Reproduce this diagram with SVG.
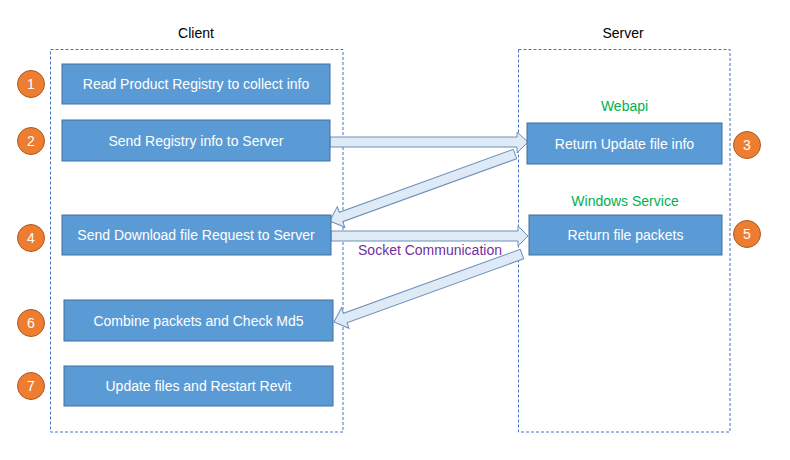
<svg xmlns="http://www.w3.org/2000/svg" width="790" height="460" viewBox="0 0 790 460">
<style>
text{font-family:"Liberation Sans",Arial,sans-serif;font-size:14px}
.lane{fill:none;stroke:#4472C4;stroke-width:1;stroke-dasharray:3,2}
.box{fill:#5B9BD5;stroke:#41719C;stroke-width:1}
.bt{fill:#fff;text-anchor:middle}
.num{fill:#ED7D31;stroke:#AE5A21;stroke-width:1}
.nt{fill:#fff;text-anchor:middle}
.lbl{fill:#000;text-anchor:middle}
.grn{fill:#00B050;text-anchor:middle}
.pur{fill:#7030A0;text-anchor:middle}
.arr{fill:#DEEBF7;stroke:#6F8FB8;stroke-width:1;stroke-linejoin:miter}
</style>
<rect width="790" height="460" fill="#fff"/>
<g id="client-lane">
<rect class="lane" x="50.5" y="49.5" width="292.5" height="382.5"/>
<text class="lbl" x="196" y="38">Client</text>
</g>
<g id="server-lane">
<rect class="lane" x="518.5" y="49.5" width="211.5" height="382.5"/>
<text class="lbl" x="623" y="38">Server</text>
<text class="grn" x="624.5" y="111">Webapi</text>
<text class="grn" x="625" y="206">Windows Service</text>
</g>
<g id="connectors">
<polygon class="arr" points="330,137 517,137 517,132 528,142 517,153 517,147 330,147"/>
<polygon class="arr" points="331,231 518,231 518,226 528,236 518,246 518,241 331,241"/>
<polygon class="arr" transform="translate(515,154) rotate(160.1)" points="0,-5 185,-5 185,-11 197,0 185,11 185,5 0,5"/>
<polygon class="arr" transform="translate(522,254) rotate(160.1)" points="0,-5 188,-5 188,-11 200,0 188,11 188,5 0,5"/>
<text class="pur" x="430" y="255">Socket Communication</text>
</g>
<g id="step1">
<rect class="box" x="62" y="64" width="268" height="40"/>
<text class="bt" x="196" y="89">Read Product Registry to collect info</text>
<circle class="num" cx="31" cy="84" r="13.5"/>
<text class="nt" x="31" y="89">1</text>
</g>
<g id="step2">
<rect class="box" x="62" y="120" width="268" height="41"/>
<text class="bt" x="196" y="146">Send Registry info to Server</text>
<circle class="num" cx="31" cy="141" r="13.5"/>
<text class="nt" x="31" y="146">2</text>
</g>
<g id="step3">
<rect class="box" x="527" y="123" width="195" height="41"/>
<text class="bt" x="624.5" y="149">Return Update file info</text>
<circle class="num" cx="747" cy="145" r="13.5"/>
<text class="nt" x="747" y="150">3</text>
</g>
<g id="step4">
<rect class="box" x="62" y="215" width="269" height="40"/>
<text class="bt" x="196" y="240">Send Download file Request to Server</text>
<circle class="num" cx="31" cy="238" r="13.5"/>
<text class="nt" x="31" y="243">4</text>
</g>
<g id="step5">
<rect class="box" x="529" y="215" width="193" height="40"/>
<text class="bt" x="625.5" y="240">Return file packets</text>
<circle class="num" cx="747" cy="234" r="13.5"/>
<text class="nt" x="747" y="239">5</text>
</g>
<g id="step6">
<rect class="box" x="64" y="300" width="269" height="41"/>
<text class="bt" x="198.5" y="325.5">Combine packets and Check Md5</text>
<circle class="num" cx="31" cy="323" r="13.5"/>
<text class="nt" x="31" y="328">6</text>
</g>
<g id="step7">
<rect class="box" x="64" y="366" width="269" height="40"/>
<text class="bt" x="198.5" y="391">Update files and Restart Revit</text>
<circle class="num" cx="31" cy="386" r="13.5"/>
<text class="nt" x="31" y="391">7</text>
</g>
</svg>
